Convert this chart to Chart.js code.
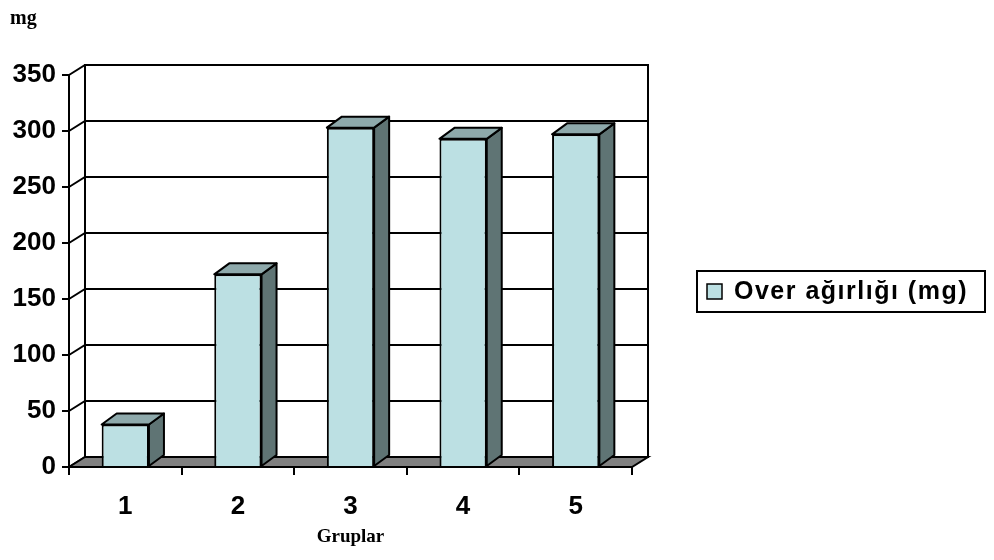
<!DOCTYPE html>
<html>
<head>
<meta charset="utf-8">
<script src="https://cdn.jsdelivr.net/npm/chart.js@4"></script>
<style>
  html, body { margin: 0; padding: 0; background: #fff; }
  #wrap { width: 994px; height: 560px; position: relative; }
</style>
</head>
<body>
<div id="wrap"><canvas id="chart" width="994" height="560"></canvas></div>
<script>
const groups = ['1', '2', '3', '4', '5'];
const overWeight = [38, 172, 303, 293, 297];
const seriesLabel = 'Over ağırlığı (mg)';
const yTicks = [0, 50, 100, 150, 200, 250, 300, 350];

const FRONT = '#bce0e3';
const TOP = '#8ea9ab';
const SIDE = '#5f7474';
const FLOOR = '#808080';

// depth offsets of the box walls and of the columns
const WALL_DX = 16, WALL_DY = -10;
const BAR_DX = 15, BAR_DY = -11;

function poly(ctx, pts, fill) {
    ctx.beginPath();
    ctx.moveTo(pts[0][0], pts[0][1]);
    for (let i = 1; i < pts.length; i++) ctx.lineTo(pts[i][0], pts[i][1]);
    ctx.closePath();
    if (fill) { ctx.fillStyle = fill; ctx.fill(); }
    ctx.stroke();
}

// back wall, side wall lines and floor
const boxPlugin = {
    id: 'box3d',
    beforeDraw(chart) {
        const { ctx, chartArea: a, scales: { y } } = chart;
        ctx.save();
        ctx.strokeStyle = '#000';
        ctx.lineWidth = 2;
        ctx.lineJoin = 'miter';

        const bx0 = a.left + WALL_DX, bx1 = a.right + WALL_DX;
        const by0 = a.top + WALL_DY, by1 = a.bottom + WALL_DY;
        ctx.fillStyle = '#fff';
        ctx.fillRect(bx0, by0, bx1 - bx0, by1 - by0);

        yTicks.forEach(v => {
            const py = y.getPixelForValue(v);
            ctx.beginPath();
            ctx.moveTo(a.left, py);
            ctx.lineTo(bx0, py + WALL_DY);
            if (v > 0) ctx.lineTo(bx1, py + WALL_DY);
            ctx.stroke();
        });
        ctx.strokeRect(bx0, by0, bx1 - bx0, by1 - by0);

        poly(ctx, [[a.left, a.bottom], [bx0, by1], [bx1, by1], [a.right, a.bottom]], FLOOR);
        ctx.restore();
    },
    beforeDatasetsDraw(chart) {
        const { ctx } = chart;
        const meta = chart.getDatasetMeta(0);
        ctx.save();
        ctx.strokeStyle = '#000';
        ctx.lineWidth = 2;
        ctx.lineJoin = 'round';
        meta.data.forEach(el => {
            const { x, y, base, width } = el.getProps(['x', 'y', 'base', 'width'], true);
            const l = x - width / 2, r = x + width / 2;
            poly(ctx, [[r, y], [r + BAR_DX, y + BAR_DY], [r + BAR_DX, base + BAR_DY], [r, base]], SIDE);
            poly(ctx, [[l, y], [l + BAR_DX, y + BAR_DY], [r + BAR_DX, y + BAR_DY], [r, y]], TOP);
        });
        ctx.restore();
    },
    afterDraw(chart) {
        const { ctx, chartArea: a } = chart;
        ctx.save();
        ctx.fillStyle = '#000';

        // unit and axis captions
        ctx.font = 'bold 20px "Liberation Serif", "Times New Roman", serif';
        ctx.textBaseline = 'middle';
        ctx.textAlign = 'left';
        ctx.fillText('mg', 10, 19);
        ctx.font = 'bold 19px "Liberation Serif", "Times New Roman", serif';
        ctx.textAlign = 'center';
        ctx.fillText('Gruplar', (a.left + a.right) / 2, 537);

        // legend
        ctx.strokeStyle = '#000';
        ctx.lineWidth = 2;
        ctx.strokeRect(697, 271, 288, 41);
        ctx.lineWidth = 1.5;
        ctx.fillStyle = FRONT;
        ctx.fillRect(707, 284, 15, 15);
        ctx.strokeRect(707, 284, 15, 15);
        ctx.fillStyle = '#000';
        ctx.font = 'bold 25px "Liberation Sans", Arial, sans-serif';
        ctx.textAlign = 'left';
        ctx.letterSpacing = '1.5px';
        ctx.fillText(chart.data.datasets[0].label, 734, 292);
        ctx.restore();
    }
};

const tickFont = { family: '"Liberation Sans", Arial, sans-serif', size: 26, weight: 'bold' };

new Chart(document.getElementById('chart'), {
    type: 'bar',
    data: {
        labels: groups,
        datasets: [{
            label: seriesLabel,
            data: overWeight,
            backgroundColor: FRONT,
            borderColor: '#000',
            borderWidth: 2,
            categoryPercentage: 1,
            barPercentage: 0.42
        }]
    },
    options: {
        responsive: false,
        animation: false,
        layout: { padding: { left: 0, top: 75, right: 362, bottom: 0 } },
        plugins: {
            legend: { display: false },
            tooltip: { enabled: false }
        },
        scales: {
            x: {
                grid: { drawOnChartArea: false, color: '#000', lineWidth: 2, tickLength: 8 },
                border: { display: true, color: '#000', width: 2 },
                ticks: { color: '#000', font: tickFont, padding: 16 },
                afterFit: s => { s.height = 93; }
            },
            y: {
                min: 0,
                max: 350,
                ticks: { stepSize: 50, color: '#000', font: tickFont, padding: 6 },
                grid: { drawOnChartArea: false, color: '#000', lineWidth: 2, tickLength: 7 },
                border: { display: true, color: '#000', width: 2 },
                afterFit: s => { s.width = 69; }
            }
        }
    },
    plugins: [boxPlugin]
});
</script>
</body>
</html>
